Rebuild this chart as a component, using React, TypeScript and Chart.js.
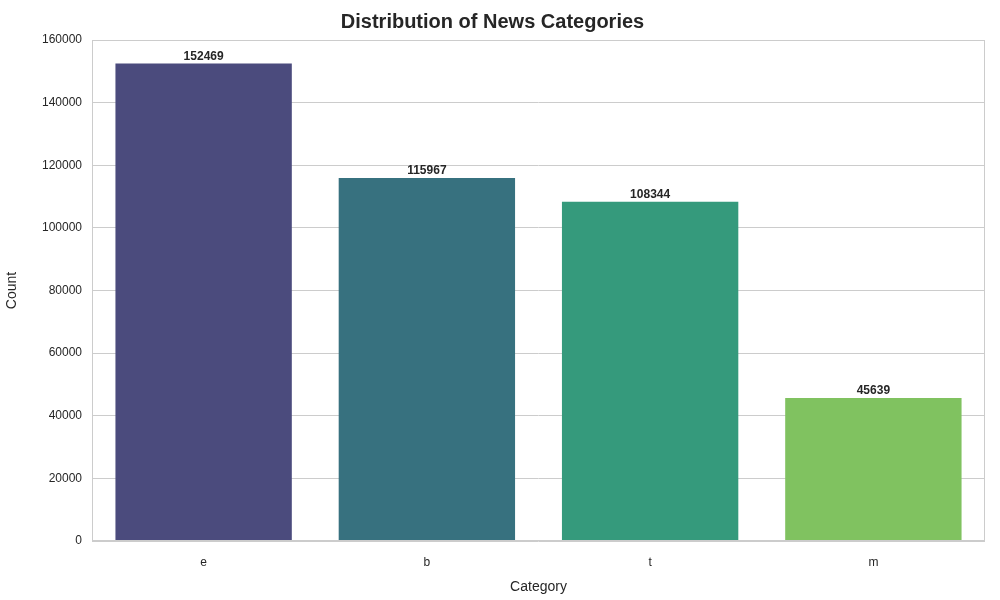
import React, { useEffect, useRef } from "react";
import { Chart, registerables } from "chart.js";
Chart.register(...registerables);

const categories = ["e", "b", "t", "m"];
const counts = [152469, 115967, 108344, 45639];
const colors = ["#4b4b7d", "#37717f", "#359a7c", "#80c260"];
const yTicks = [0, 20000, 40000, 60000, 80000, 100000, 120000, 140000, 160000];

const FONT = "'Liberation Sans', Arial, sans-serif";

const extras = {
  id: "extras",
  afterDatasetsDraw(chart: any) {
    const ctx = chart.ctx;
    const a = chart.chartArea;
    ctx.save();
    ctx.strokeStyle = "#cccccc";
    ctx.lineWidth = 1;
    ctx.strokeRect(a.left + 0.5, a.top + 0.5, a.right - a.left - 1, a.bottom - a.top - 1);
    const meta = chart.getDatasetMeta(0);
    ctx.fillStyle = "#262626";
    ctx.font = `bold 12px ${FONT}`;
    ctx.textAlign = "center";
    ctx.textBaseline = "bottom";
    meta.data.forEach((bar: any, i: number) => {
      ctx.fillText(String(counts[i]), bar.x, bar.y - 1);
    });
    ctx.restore();
  },
};

export default function App() {
  const ref = useRef<HTMLCanvasElement>(null);
  useEffect(() => {
    const chart = new Chart(ref.current!, {
      type: "bar",
      data: {
        labels: categories,
        datasets: [{ data: counts, backgroundColor: colors, categoryPercentage: 1, barPercentage: 0.79 }],
      },
      options: {
        animation: false,
        responsive: false,
        layout: { padding: { left: 0, right: 15, top: 0, bottom: 0 } },
        plugins: {
          legend: { display: false },
          tooltip: { enabled: false },
          title: {
            display: true,
            text: "Distribution of News Categories",
            color: "#262626",
            font: { family: FONT, size: 20, weight: "bold" },
            padding: { top: 10, bottom: 6 },
          },
        },
        scales: {
          x: {
            grid: { display: false },
            border: { display: false },
            ticks: { color: "#262626", font: { family: FONT, size: 12 }, padding: 6 },
            title: { display: true, text: "Category", color: "#262626", font: { family: FONT, size: 14 }, padding: { top: 4 } },
            afterFit: (s: any) => { s.height = 59; },
          },
          y: {
            min: 0,
            max: 160000,
            afterBuildTicks: (s: any) => { s.ticks = yTicks.map((v) => ({ value: v })); },
            grid: { color: "#cccccc", drawTicks: false },
            border: { display: false },
            ticks: { color: "#262626", font: { family: FONT, size: 12 }, padding: 10, callback: (v: any) => String(v) },
            title: { display: true, text: "Count", color: "#262626", font: { family: FONT, size: 14 }, padding: { bottom: 4 } },
            afterFit: (s: any) => { s.width = 92; },
          },
        },
      },
      plugins: [extras],
    });
    return () => chart.destroy();
  }, []);
  return (
    <div style={{ position: "fixed", left: 0, top: 0, width: 1000, height: 600, background: "#fff" }}>
      <canvas ref={ref} width={1000} height={600} />
    </div>
  );
}
